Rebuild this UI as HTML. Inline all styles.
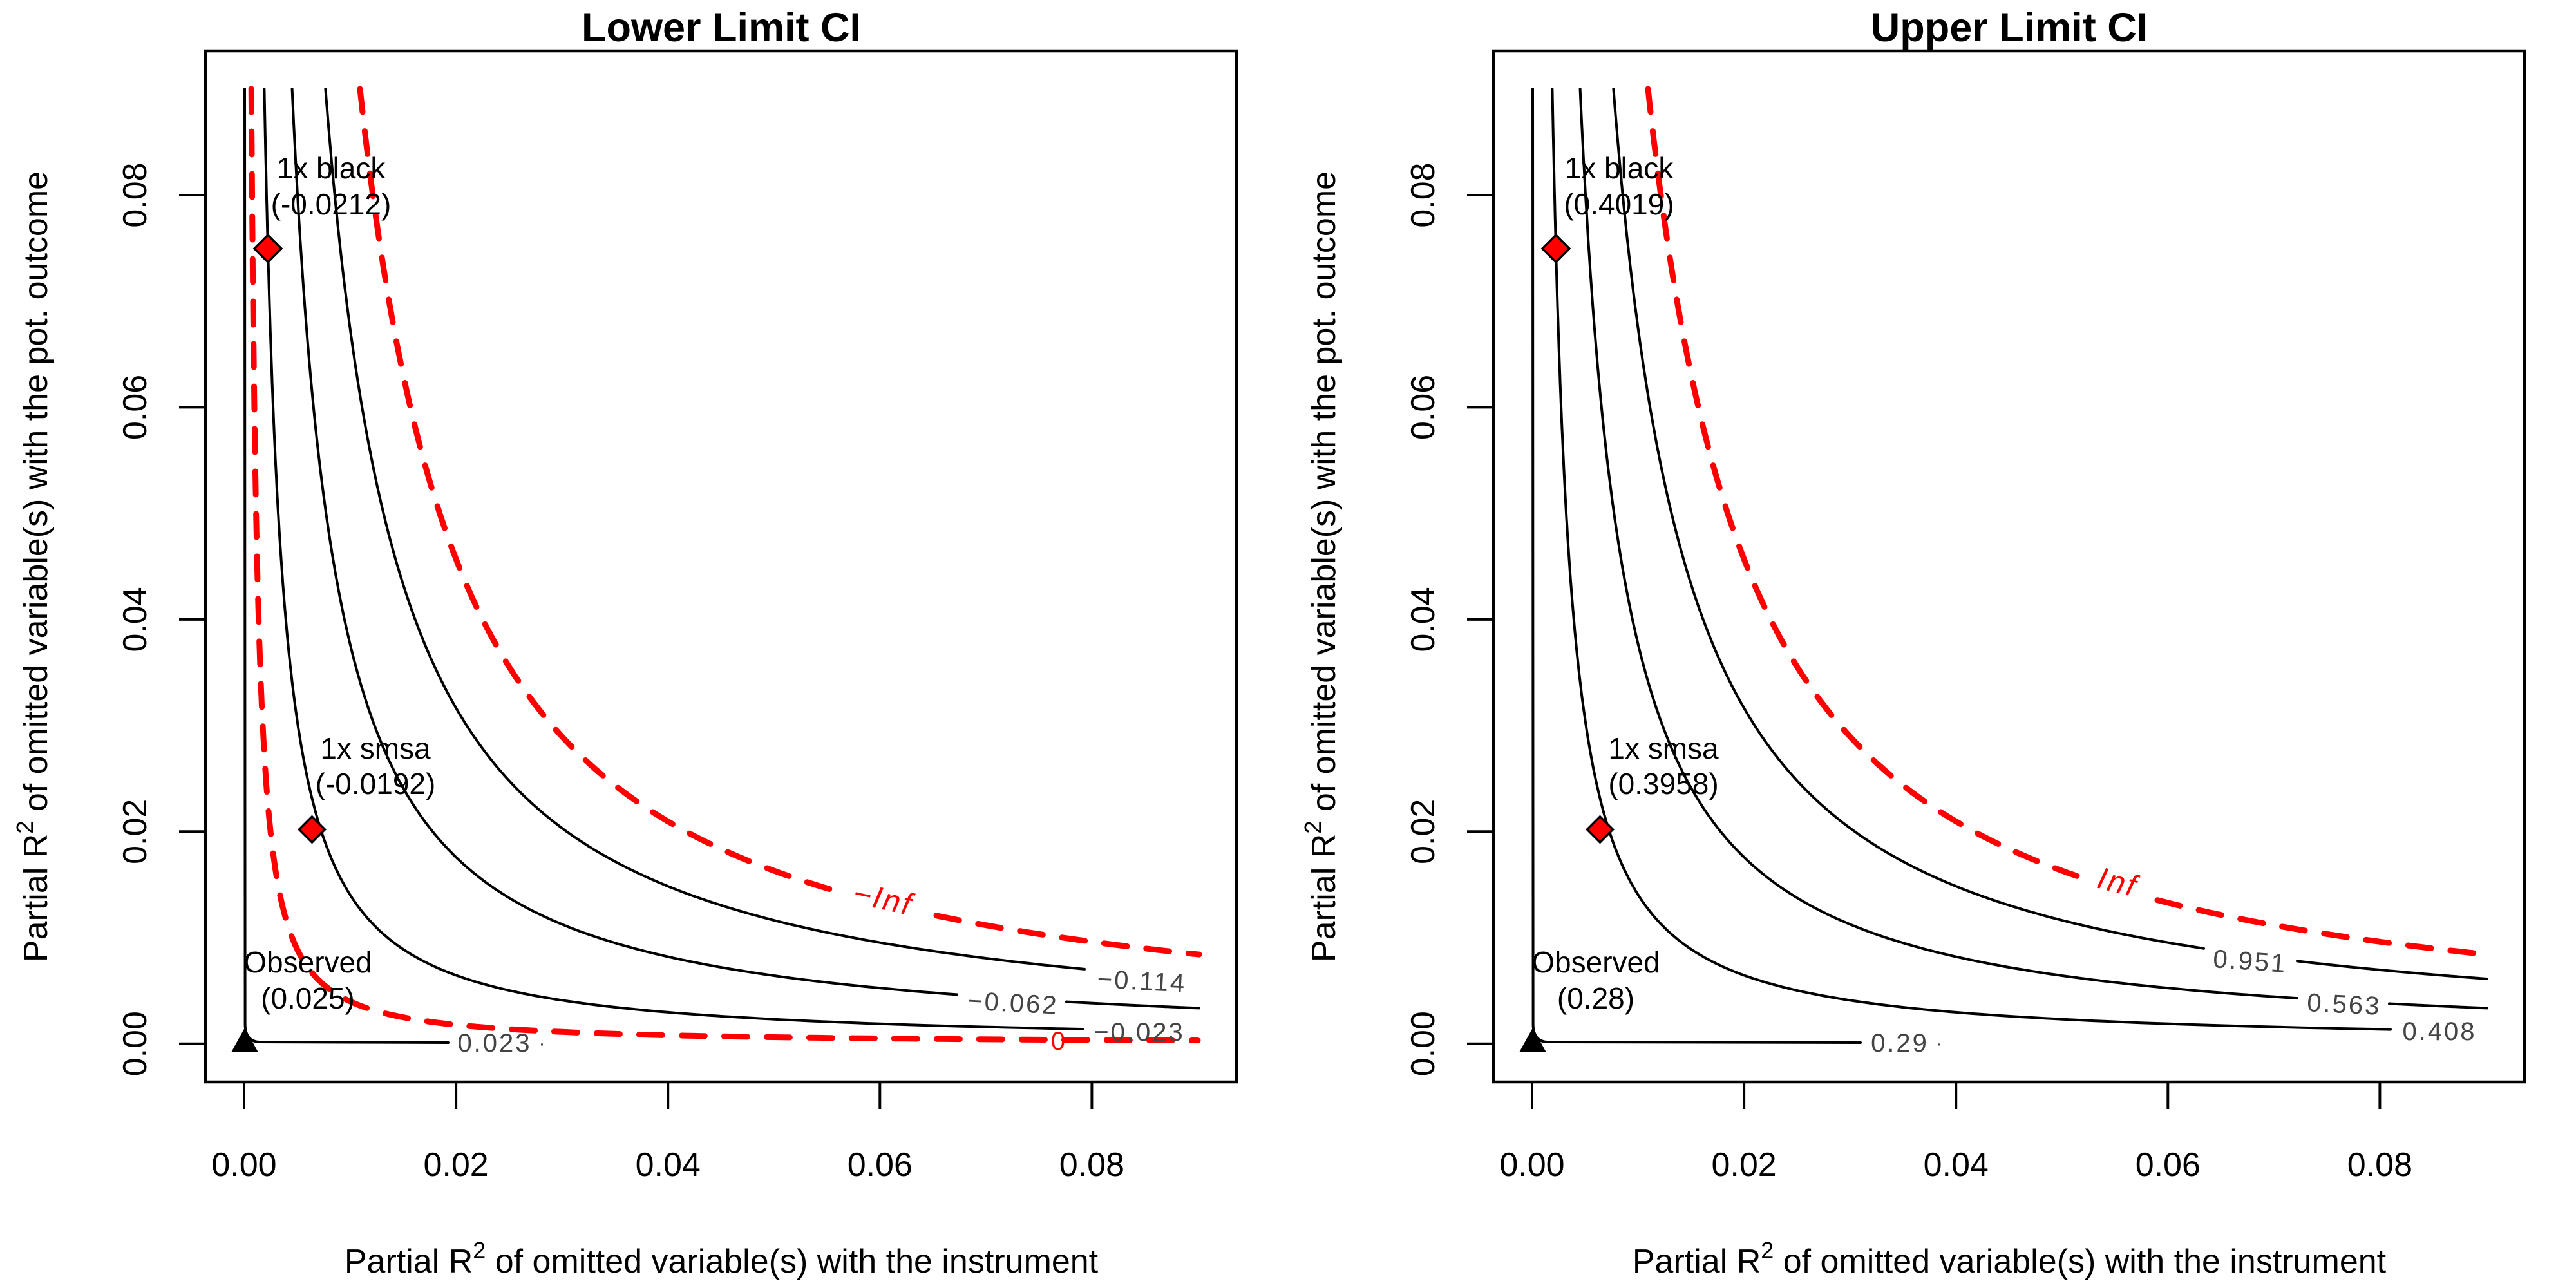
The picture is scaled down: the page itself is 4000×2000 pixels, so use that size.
<!DOCTYPE html>
<html><head><meta charset="utf-8"><style>
html,body{margin:0;padding:0;background:#fff;}
svg{display:block;}
text{font-family:"Liberation Sans",Arial,sans-serif;}
</style></head><body>
<svg width="4000" height="2000" viewBox="0 0 4000 2000" xmlns="http://www.w3.org/2000/svg">
<rect width="4000" height="2000" fill="#fff"/>

<!-- ===== LEFT PLOT ===== -->
<g>
<text x="1120" y="64" font-size="63" font-weight="bold" text-anchor="middle">Lower Limit CI</text>
<rect x="319" y="79" width="1601" height="1601" fill="none" stroke="#000" stroke-width="4.5"/>
<g stroke="#000" stroke-width="4">
<line x1="379" y1="1680" x2="1695.4" y2="1680"/>
<line x1="379" y1="1680" x2="379" y2="1722"/><line x1="708.1" y1="1680" x2="708.1" y2="1722"/><line x1="1037.2" y1="1680" x2="1037.2" y2="1722"/><line x1="1366.3" y1="1680" x2="1366.3" y2="1722"/><line x1="1695.4" y1="1680" x2="1695.4" y2="1722"/>
<line x1="319" y1="1620.7" x2="319" y2="303"/>
<line x1="278" y1="1620.7" x2="319" y2="1620.7"/><line x1="278" y1="1291.3" x2="319" y2="1291.3"/><line x1="278" y1="961.9" x2="319" y2="961.9"/><line x1="278" y1="632.4" x2="319" y2="632.4"/><line x1="278" y1="303" x2="319" y2="303"/>
</g>
<g font-size="52" text-anchor="middle">
<text x="379" y="1826">0.00</text><text x="708.1" y="1826">0.02</text><text x="1037.2" y="1826">0.04</text><text x="1366.3" y="1826">0.06</text><text x="1695.4" y="1826">0.08</text>
<text transform="translate(227,1620.7) rotate(-90)">0.00</text>
<text transform="translate(227,1291.3) rotate(-90)">0.02</text>
<text transform="translate(227,961.9) rotate(-90)">0.04</text>
<text transform="translate(227,632.4) rotate(-90)">0.06</text>
<text transform="translate(227,303) rotate(-90)">0.08</text>
</g>
<text x="1120" y="1976" font-size="52" text-anchor="middle">Partial R<tspan font-size="36" dy="-22">2</tspan><tspan dy="22"> of omitted variable(s) with the instrument</tspan></text>
<text transform="translate(73,880) rotate(-90)" font-size="52" text-anchor="middle">Partial R<tspan font-size="36" dy="-22">2</tspan><tspan dy="22"> of omitted variable(s) with the pot. outcome</tspan></text>

<g fill="none" stroke="#000" stroke-width="4" stroke-linejoin="round" stroke-linecap="round">
<path d="M380,138 L380.6,1592 Q381.5,1617 402,1618 L696,1619"/>
<path id="LB" d="M412,138 L416,386 L454,1083 L607,1453 L1681,1598"/>
<path id="LC1" d="M455,138 L468,400 L556,1057 L766,1376 L1486,1547"/>
<path id="LC2" d="M1656,1560 L1862,1571"/>
<path id="LD" d="M506,138 L530,400 L830,1242 L1684,1514"/>
</g>
<g fill="none" stroke="#FF0000" stroke-width="9" stroke-dasharray="36 30" stroke-linecap="round" stroke-linejoin="round">
<path id="L0" d="M392,138 L409,1146 L511,1542 L1860,1620"/>
<path id="LI1" d="M563,138 L593,400 L945,1204 L1301,1378"/>
<path id="LI2" d="M1454,1413 L1862,1482"/>
</g>
<g font-size="40" fill="#444" letter-spacing="3" text-anchor="middle">
<text x="768" y="1633">0.023</text>
<text x="843" y="1630" font-size="30">·</text>
<text x="1773" y="1537" transform="rotate(3,1773,1524)">−0.114</text>
<text x="1573" y="1571" transform="rotate(3,1573,1557)">−0.062</text>
<text x="1769" y="1616">−0.023</text>
</g>
<text x="1643" y="1630" font-size="40" fill="#FF0000" text-anchor="middle">0</text>
<text x="1371" y="1412" font-size="48" font-style="italic" fill="#FF0000" text-anchor="middle" letter-spacing="3" transform="rotate(12,1371,1397)">−Inf</text>

<polygon points="380,1596 359,1634 401,1634" fill="#000"/>
<polygon points="416,365 437,386 416,407 395,386" fill="#FF0000" stroke="#000" stroke-width="3.5"/>
<polygon points="484.5,1268 504.5,1288 484.5,1308 464.5,1288" fill="#FF0000" stroke="#000" stroke-width="3.5"/>
<g font-size="46" text-anchor="middle">
<text x="514" y="277">1x black</text><text x="514" y="333">(-0.0212)</text>
<text x="583" y="1178">1x smsa</text><text x="583" y="1233">(-0.0192)</text>
<text x="478" y="1510">Observed</text><text x="478" y="1566">(0.025)</text>
</g>
</g>

<!-- ===== RIGHT PLOT ===== -->
<g transform="translate(2000,0)">
<text x="1120" y="64" font-size="63" font-weight="bold" text-anchor="middle">Upper Limit CI</text>
<rect x="319" y="79" width="1601" height="1601" fill="none" stroke="#000" stroke-width="4.5"/>
<g stroke="#000" stroke-width="4">
<line x1="379" y1="1680" x2="1695.4" y2="1680"/>
<line x1="379" y1="1680" x2="379" y2="1722"/><line x1="708.1" y1="1680" x2="708.1" y2="1722"/><line x1="1037.2" y1="1680" x2="1037.2" y2="1722"/><line x1="1366.3" y1="1680" x2="1366.3" y2="1722"/><line x1="1695.4" y1="1680" x2="1695.4" y2="1722"/>
<line x1="319" y1="1620.7" x2="319" y2="303"/>
<line x1="278" y1="1620.7" x2="319" y2="1620.7"/><line x1="278" y1="1291.3" x2="319" y2="1291.3"/><line x1="278" y1="961.9" x2="319" y2="961.9"/><line x1="278" y1="632.4" x2="319" y2="632.4"/><line x1="278" y1="303" x2="319" y2="303"/>
</g>
<g font-size="52" text-anchor="middle">
<text x="379" y="1826">0.00</text><text x="708.1" y="1826">0.02</text><text x="1037.2" y="1826">0.04</text><text x="1366.3" y="1826">0.06</text><text x="1695.4" y="1826">0.08</text>
<text transform="translate(227,1620.7) rotate(-90)">0.00</text>
<text transform="translate(227,1291.3) rotate(-90)">0.02</text>
<text transform="translate(227,961.9) rotate(-90)">0.04</text>
<text transform="translate(227,632.4) rotate(-90)">0.06</text>
<text transform="translate(227,303) rotate(-90)">0.08</text>
</g>
<text x="1120" y="1976" font-size="52" text-anchor="middle">Partial R<tspan font-size="36" dy="-22">2</tspan><tspan dy="22"> of omitted variable(s) with the instrument</tspan></text>
<text transform="translate(73,880) rotate(-90)" font-size="52" text-anchor="middle">Partial R<tspan font-size="36" dy="-22">2</tspan><tspan dy="22"> of omitted variable(s) with the pot. outcome</tspan></text>

<g fill="none" stroke="#000" stroke-width="4" stroke-linejoin="round" stroke-linecap="round">
<path d="M380,138 L380.6,1592 Q381.5,1617 402,1618 L889,1619"/>
<path id="RB" d="M412,138 L416,386 L454,1083 L607,1453 L1712,1599"/>
<path id="RC1" d="M455,138 L468,400 L556,1057 L766,1376 L1567,1553"/>
<path id="RC2" d="M1710,1563 L1862,1571"/>
<path id="RD1" d="M506,138 L530,400 L830,1242 L1422,1479"/>
<path id="RD2" d="M1567,1500 L1862,1530"/>
</g>
<g fill="none" stroke="#FF0000" stroke-width="9" stroke-dasharray="36 30" stroke-linecap="round" stroke-linejoin="round">
<path id="RI1" d="M563,138 L593,400 L945,1204 L1225,1354"/>
<path id="RI2" d="M1350,1389 L1862,1482"/>
</g>
<g font-size="40" fill="#444" letter-spacing="3" text-anchor="middle">
<text x="950" y="1633">0.29</text>
<text x="1012" y="1630" font-size="30">·</text>
<text x="1494" y="1506" transform="rotate(4,1494,1492)">0.951</text>
<text x="1640" y="1573" transform="rotate(3,1640,1559)">0.563</text>
<text x="1788" y="1615">0.408</text>
</g>
<text x="1288" y="1386" font-size="48" font-style="italic" fill="#FF0000" text-anchor="middle" letter-spacing="3" transform="rotate(14,1288,1371)">Inf</text>

<polygon points="380,1596 359,1634 401,1634" fill="#000"/>
<polygon points="416,365 437,386 416,407 395,386" fill="#FF0000" stroke="#000" stroke-width="3.5"/>
<polygon points="484.5,1268 504.5,1288 484.5,1308 464.5,1288" fill="#FF0000" stroke="#000" stroke-width="3.5"/>
<g font-size="46" text-anchor="middle">
<text x="514" y="277">1x black</text><text x="514" y="333">(0.4019)</text>
<text x="583" y="1178">1x smsa</text><text x="583" y="1233">(0.3958)</text>
<text x="478" y="1510">Observed</text><text x="478" y="1566">(0.28)</text>
</g>
</g>
</svg>
<script>
(function(){
  var X0=379, YB=1620.7, VTOP=1620.7-138;
  function set(id,u1,v1,a,xs,xe){
    var K=v1*Math.pow(u1,a);
    var us = xs==null ? Math.pow(K/VTOP,1/a) : xs-X0;
    var ue = xe-X0, n=240, s='';
    for(var i=0;i<=n;i++){
      var u=us*Math.pow(ue/us,i/n);
      var v=K*Math.pow(u,-a);
      s+=(i?' L':'M')+(X0+u).toFixed(1)+','+(YB-v).toFixed(1);
    }
    var el=document.getElementById(id); if(el) el.setAttribute('d',s);
  }
  var B=[37,1234.7,1.122], C=[89,1220.7,1.100], D=[151,1220.7,1.092], I=[214,1220.7,1.124], Z=[30,474.7,1.161];
  function S(id,p,xs,xe){set(id,p[0],p[1],p[2],xs,xe);}
  S('LB',B,null,1681); S('LC1',C,null,1486); S('LC2',C,1656,1862);
  S('LD',D,null,1684); S('L0',Z,null,1860); S('LI1',I,null,1301); S('LI2',I,1454,1862);
  S('RB',B,null,1712); S('RC1',C,null,1567); S('RC2',C,1710,1862);
  S('RD1',D,null,1422); S('RD2',D,1567,1862); S('RI1',I,null,1225); S('RI2',I,1350,1862);
})();
</script>
</body></html>
